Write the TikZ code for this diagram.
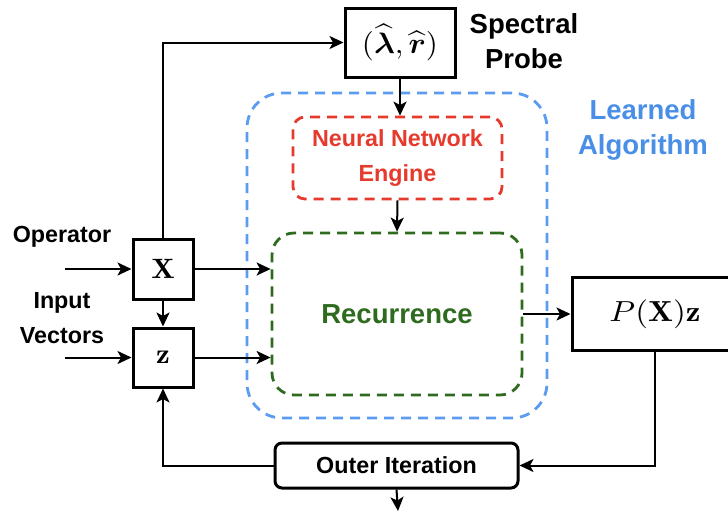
\documentclass[tikz,border=0pt]{standalone}
\usepackage{amsmath}
\usepackage{graphicx}
\usepackage{fontspec}
\setsansfont{Liberation Sans}
\usetikzlibrary{arrows.meta}
\definecolor{lblue}{HTML}{5B9BF0}
\definecolor{tblue}{HTML}{4A8FE7}
\definecolor{nred}{HTML}{E53A2C}
\definecolor{rgreen}{HTML}{2F6B1F}
\newcommand{\bigmath}[3]{\scalebox{#1}[#2]{$#3$}}
\begin{document}
\begin{tikzpicture}[x=1pt,y=-1pt,
  >={Stealth[length=14pt,width=13pt,inset=3.5pt]},
  box/.style={draw, line width=3pt, inner sep=0pt},
  conn/.style={line width=2pt},
  lab/.style={font=\sffamily\bfseries\fontsize{23.3}{35}\selectfont, align=center},
  biglab/.style={font=\sffamily\bfseries\fontsize{27.5}{35}\selectfont, align=center},
  dashbox/.style={dash pattern=on 10pt off 7pt, line width=2.8pt, inner sep=0pt}]
\useasboundingbox (0,0) rectangle (728,512);
\clip (0,0) rectangle (728,512);

\node[box, minimum width=110pt, minimum height=69pt] (probe) at (400,42.5)
  {\bigmath{3.1}{2.95}{(\widehat{\boldsymbol{\lambda}},\widehat{\boldsymbol{r}})}};
\node[biglab] (spec) at (524,41) {Spectral\\Probe};
\node[biglab, text=tblue] (learn) at (643,130) {Learned\\Algorithm};

\node[draw=lblue, dashbox, rounded corners=35pt, minimum width=300pt, minimum height=325pt] (algo) at (397,255.5) {};
\node[draw=nred, dashbox, rounded corners=12pt, minimum width=209pt, minimum height=82pt, lab, text=nred] (nn) at (397.5,158) {Neural Network\\Engine};
\node[draw=rgreen, dashbox, rounded corners=22pt, minimum width=250pt, minimum height=162pt, biglab, text=rgreen] (rec) at (397,314) {Recurrence};

\node[box, minimum width=60pt, minimum height=60pt] (X) at (163,269) {\bigmath{3.1}{2.8}{\mathbf{X}}};
\node[box, minimum width=60pt, minimum height=59pt] (z) at (163,357.5) {\bigmath{3.1}{2.8}{\mathbf{z}}};
\node[box, minimum width=166pt, minimum height=73pt] (P) at (655,314) {\bigmath{3.3}{2.9}{P(\mathbf{X})\mathbf{z}}};
\node[box, rounded corners=7pt, minimum width=243pt, minimum height=45pt, lab] (outer) at (396.5,465.5) {Outer Iteration};

\node[lab] (op) at (62,237) {Operator};
\node[lab] (iv) at (62,318) {Input\\Vectors};

\coordinate (opin) at (65,269);
\coordinate (ivin) at (65,357.5);
\coordinate (out) at (398,511);

\draw[conn,->] (opin) -- (X.west);
\draw[conn,->] (ivin) -- (z.west);
\draw[conn,->] (X.south) -- (z.north);
\draw[conn,->] (X.north) |- (probe.west);
\draw[conn,->] (X.east) -- (X.east -| rec.west);
\draw[conn,->] (z.east) -- (z.east -| rec.west);
\draw[conn,->] (probe.south) -- (probe.south |- nn.north);
\draw[conn,->] (nn.south) -- (rec.north);
\draw[conn,->] (rec.east) -- (P.west);
\draw[conn,->] (P.south) |- (outer.east);
\draw[conn,->] (outer.west) -| (z.south);
\draw[conn,->] (outer.south) -- (out);
\end{tikzpicture}
\end{document}
